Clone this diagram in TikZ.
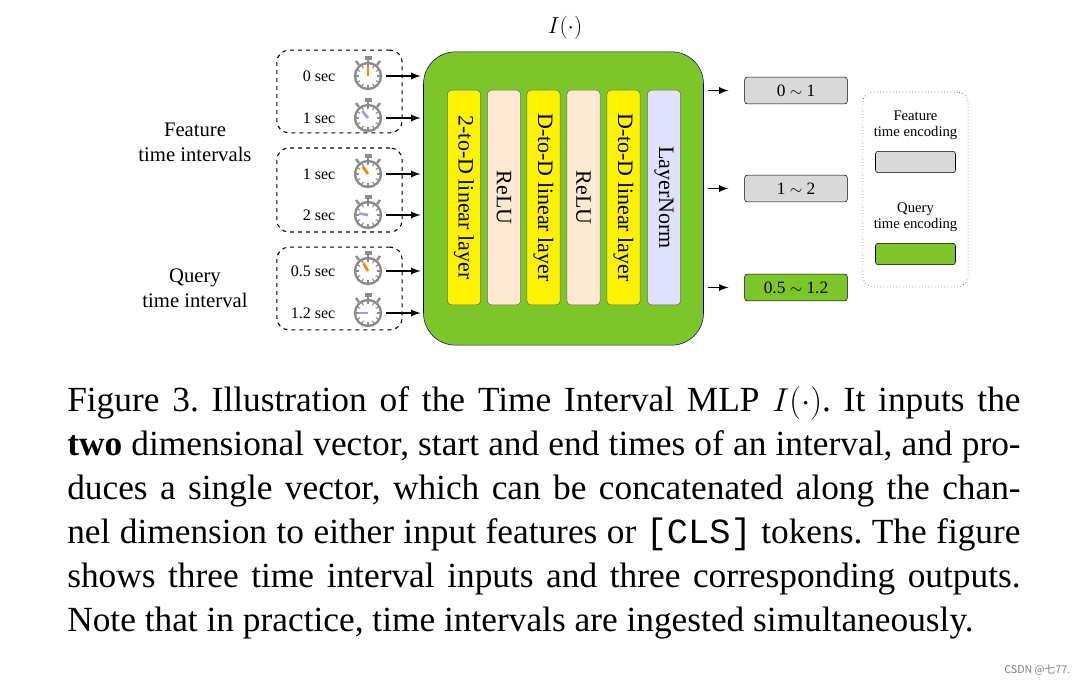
\documentclass[tikz,border=0pt]{standalone}
\usepackage{fontspec}
\setmainfont{Liberation Serif}
\newfontfamily\monof{Liberation Mono}
\newfontfamily\cjkf{Noto Sans CJK SC}
\definecolor{mgreen}{HTML}{7CC62A}
\begin{document}
\begin{tikzpicture}[x=0.75pt,y=-0.75pt,
  col/.style={draw=black!60,rounded corners=3pt,minimum width=25pt,minimum height=161pt,inner sep=0pt},
  outb/.style={draw=black,fill=black!15,rounded corners=2pt,minimum width=77pt,minimum height=20pt,font=\fontsize{13}{15}\selectfont},
  grp/.style={draw,dashed,rounded corners=9pt,thick},
  lbl/.style={font=\fontsize{12}{14}\selectfont,anchor=east},
  arr/.style={-latex,line width=1.4pt},
  watch/.pic={
    \draw[black!45,line width=1.8pt] (0,0) circle (13);
    \fill[black!45] (-3.5,-20) rectangle (3.5,-16);
    \draw[black!45,line width=1.8pt] (0,-16)--(0,-13);
    \draw[black!45,line width=1.8pt] (-9,-11)--(-12,-15);
    \draw[black!45,line width=1.8pt] (9,-11)--(12,-15);
    \foreach \a in {0,30,...,330} \draw[black!45,thick] (\a:9)--(\a:12);
  }]
\useasboundingbox (0,0) rectangle (1085,686);
\fill[white] (0,0) rectangle (1085,686);
% groups
\node[grp,minimum width=94pt,minimum height=62pt] (g1) at (339.5,91.5) {};
\node[grp,minimum width=94pt,minimum height=63pt] (g2) at (339.5,190) {};
\node[grp,minimum width=94pt,minimum height=62pt] (g3) at (339.5,288.5) {};
\foreach \y/\t/\c/\h [count=\i] in {76/0 sec/orange/90,118/1 sec/blue!40/50,174/1 sec/orange/55,215/2 sec/blue!40/10,271/0.5 sec/orange/60,313/1.2 sec/blue!40/0}{
  \node[lbl] (t\i) at (340,\y) {\t};
  \pic at (368,\y) {watch};
  \draw[\c,line width=2pt] (368,\y)--++(\h:-9);
  \coordinate (s\i) at (386,\y);
}
\node[font=\fontsize{15.5}{19}\selectfont,align=center] (f) at (195,142) {Feature\\time intervals};
\node[font=\fontsize{15.5}{19}\selectfont,align=center] (q) at (195,288) {Query\\time interval};
% main box
\node[draw=blue!50!black,fill=mgreen,rounded corners=24pt,minimum width=210pt,minimum height=220pt,inner sep=0pt] (main) at (563.5,198.5) {};
\node[font=\fontsize{17}{20}\selectfont] (I) at (565,28) {$I(\cdot)$};
\foreach \y [count=\i] in {76,118,174,215,271,313}
  \draw[arr] (s\i) -- ([xshift=-2]s\i -| main.west);
% columns
\foreach \x/\c/\t [count=\i] in {464/yellow/2-to-D linear layer,504/orange!18/ReLU,543.5/yellow/D-to-D linear layer,583.5/orange!18/ReLU,623.5/yellow/D-to-D linear layer,664/blue!12/LayerNorm}
  \node[col,fill=\c] (c\i) at (\x,197.5) {\rotatebox{-90}{\fontsize{16.5}{18}\selectfont\t}};
% outputs
\node[outb] (o1) at (796,90.5) {0 $\sim$ 1};
\node[outb] (o2) at (796,188.5) {1 $\sim$ 2};
\node[outb,fill=mgreen] (o3) at (796,287.5) {0.5 $\sim$ 1.2};
\foreach \i in {1,2,3}
  \draw[arr] (o\i.west -| main.east) ++(4,0) -- ([xshift=-12]o\i.west);
% legend
\node[draw,dotted,rounded corners=8pt,minimum width=79pt,minimum height=146pt] (leg) at (915.5,189.5) {};
\node[font=\fontsize{11}{12}\selectfont,align=center] (l1) at (915.5,125) {Feature\\time encoding};
\node[draw,fill=black!15,rounded corners=2pt,minimum width=60pt,minimum height=16pt] (b1) at (915.5,162) {};
\node[font=\fontsize{11}{12}\selectfont,align=center] (l2) at (915.5,217) {Query\\time encoding};
\node[draw,fill=mgreen,rounded corners=2pt,minimum width=60pt,minimum height=16pt] (b2) at (915.5,254) {};
% caption
\node[anchor=north west,inner sep=0pt,text width=715pt,align=justify,font=\fontsize{26.5}{33}\selectfont] (cap) at (67,386) {\frenchspacing Figure 3. Illustration of the Time Interval MLP $I(\cdot)$. It inputs the\linebreak \textbf{two} dimensional vector, start and end times of an interval, and pro-\linebreak duces a single vector, which can be concatenated along the chan-\linebreak nel dimension to either input features or {\monof[CLS]} tokens. The figure\linebreak shows three time interval inputs and three corresponding outputs.\linebreak Note that in practice, time intervals are ingested simultaneously.};
\node[anchor=east,font=\fontsize{8}{9}\selectfont\cjkf,text=black!50] (w) at (1075,670) {CSDN @七77.};
\end{tikzpicture}
\end{document}
